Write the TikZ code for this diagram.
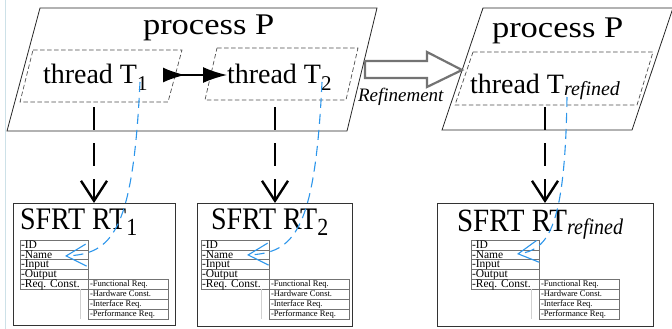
\documentclass[tikz,border=0pt]{standalone}
\usepackage{fontspec}
\setmainfont{Liberation Serif}
\usetikzlibrary{arrows.meta}
\definecolor{bluedash}{RGB}{45,150,235}
\definecolor{arrgray}{RGB}{115,115,115}
\definecolor{edgeline}{RGB}{205,225,232}
\begin{document}
\begin{tikzpicture}[x=1pt,y=-1pt,
  txt/.style={anchor=base west, inner sep=0pt, outer sep=0pt},
  proc/.style={draw=black!85, line width=0.8pt},
  thr/.style={draw=black!70, line width=0.7pt, dash pattern=on 4.5pt off 2.5pt},
  flow/.style={line width=2.6pt, dash pattern=on 23pt off 13pt,
    -{Straight Barb[length=20pt,width=26pt,line width=2.4pt]}},
  ref/.style={draw=bluedash, line width=1.1pt, dash pattern=on 10pt off 6pt,
    -{Straight Barb[length=20pt,width=22pt,line width=1.1pt]}},
  box/.style={draw=black!80, line width=0.9pt, anchor=north west, inner sep=0pt},
  tbl/.style={draw=black!55, line width=0.6pt},
  sfrttab/.pic={
    \foreach \t [count=\i from 0] in {-ID,-Name,-Input,-Output,-Req. Const.} {
      \draw[tbl] (0,{\i*9.8}) rectangle ++(68,9.8);
      \node[txt, font=\fontsize{11.5}{11.5}\selectfont] (-r\i) at (1,{\i*9.8+8.3}) {\t};
    }
    \foreach \t [count=\i from 0] in {-Functional Req.,-Hardware Const.,-Interface Req.,-Performance Req.} {
      \draw[tbl] (68,{39.2+\i*10}) rectangle ++(80,10);
      \node[txt, font=\fontsize{8.6}{8.6}\selectfont] (-s\i) at (70,{39.2+\i*10+7.6}) {\t};
    }
    \draw[black!18, line width=0.6pt] (60,49) -- (60,79.2);
  }
]
\useasboundingbox (0,0) rectangle (672,329);
\draw[edgeline, line width=1pt] (5,0) -- (5,329);

% process parallelograms
\draw[proc] (40,8) -- (377,8) -- (347,131) -- (7,131) -- cycle;
\draw[proc] (483,8) -- (673,8) -- (632,130) -- (442,130) -- cycle;

% thread parallelograms
\draw[thr] (33,50) -- (182,50) -- (168,102) -- (20,102) -- cycle;
\draw[thr] (217,48) -- (358,48) -- (346,100) -- (205,100) -- cycle;
\draw[thr] (473,52) -- (653,52) -- (637,105) -- (455,105) -- cycle;

% titles
\node[txt] (pl) at (143,35) {\scalebox{1.15}[1]{\fontsize{30}{30}\selectfont process P}};
\node[txt] (pr) at (492,38) {\scalebox{1.15}[1]{\fontsize{30}{30}\selectfont process P}};

\node[txt, font=\fontsize{28}{28}\selectfont] (t1) at (43,83) {thread T\raisebox{-7pt}{\fontsize{21}{21}\selectfont 1}};
\node[txt, font=\fontsize{28}{28}\selectfont] (t2) at (227,83) {thread T\raisebox{-7pt}{\fontsize{21}{21}\selectfont 2}};
\node[txt, font=\fontsize{28}{28}\selectfont] (tr) at (470,93) {thread T\raisebox{-2pt}{\fontsize{20}{20}\selectfont\itshape refined}};

\node[txt, font=\fontsize{19}{19}\selectfont\itshape] (refl) at (358,102) {Refinement};

% thread to thread arrow
\coordinate (a1) at (163,75);
\coordinate (a2) at (227,75);
\draw[line width=1.6pt, {Latex[reversed,length=22pt,width=15pt]}-{Latex[length=24pt,width=16pt]}] (a1) -- (a2);

% refinement hollow arrow
\draw[arrgray, line width=2.2pt, line join=miter] (365,61) -- (427,61) -- (427,52) -- (462,70) -- (427,87) -- (427,78) -- (365,78) -- cycle;

% SFRT boxes
\node[box, minimum width=162pt, minimum height=122pt] (rt1) at (13,203) {};
\node[box, minimum width=155pt, minimum height=123pt] (rt2) at (197,203) {};
\node[box, minimum width=216pt, minimum height=123pt] (rt3) at (437,203) {};

\node[txt] (h1) at (20,229) {\scalebox{1}[1.12]{\fontsize{28}{28}\selectfont SFRT RT\raisebox{-6pt}{\fontsize{22}{22}\selectfont 1}}};
\node[txt] (h2) at (211,229) {\scalebox{1}[1.12]{\fontsize{28}{28}\selectfont SFRT RT\raisebox{-6pt}{\fontsize{22}{22}\selectfont 2}}};
\node[txt] (h3) at (457,231) {\scalebox{1}[1.12]{\fontsize{29}{29}\selectfont SFRT RT\raisebox{-3pt}{\fontsize{20}{20}\selectfont\itshape refined}}};

\pic (ta) at (20,240) {sfrttab};
\pic (tb) at (201,240) {sfrttab};
\pic (tc) at (471,240) {sfrttab};

% black dashed arrows
\coordinate (f1) at (94,107);
\coordinate (f2) at (275,107);
\coordinate (f3) at (545,107);
\draw[flow] (f1) -- (f1 |- rt1.north);
\draw[flow] (f2) -- (f2 |- rt2.north);
\draw[flow] (f3) -- (f3 |- rt3.north);

% blue dashed refinement links
\coordinate (b1) at (140,82);
\coordinate (b2) at (322,82);
\coordinate (b3) at (567,97);
\coordinate (e1) at (65,256);
\coordinate (e2) at (247,255);
\coordinate (e3) at (517,254);
\draw[ref] (b1) .. controls (133,232) and (112,254) .. (e1);
\draw[ref] (b2) .. controls (315,232) and (294,253) .. (e2);
\draw[ref] (b3) .. controls (565,226) and (549,250) .. (e3);
\end{tikzpicture}
\end{document}
